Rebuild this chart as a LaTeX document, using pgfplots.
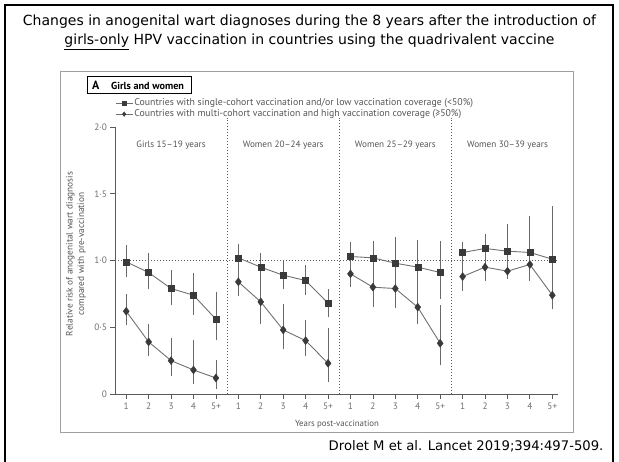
\documentclass[border=0pt]{standalone}
\usepackage{pgfplots}
\pgfplotsset{compat=1.18}
\usepackage{pgfplotstable}
\usepackage{fontspec}
\setmainfont{PT Sans}
\newfontfamily\titlefont{DejaVu Sans}
\definecolor{lgray}{HTML}{555555}
\definecolor{tgray}{HTML}{6E6E6E}
\definecolor{axgray}{HTML}{5A5A5A}
\definecolor{mk}{HTML}{3A3A3A}
\definecolor{ln}{HTML}{707070}
\definecolor{eb}{HTML}{6A6A6A}

\pgfplotstableread{
x y lo hi
0 0.99 0.89 1.10
1 0.91 0.80 1.04
2 0.79 0.68 0.91
3 0.74 0.61 0.89
4 0.56 0.42 0.75
5 1.02 0.93 1.11
6 0.95 0.88 1.04
7 0.89 0.80 0.99
8 0.85 0.76 0.95
9 0.68 0.59 0.77
10 1.03 0.94 1.12
11 1.02 0.93 1.13
12 0.98 0.85 1.16
13 0.95 0.79 1.14
14 0.91 0.73 1.13
15 1.06 0.99 1.12
16 1.09 1.01 1.18
17 1.07 0.93 1.26
18 1.06 0.875 1.32
19 1.01 0.84 1.39
}\single

\pgfplotstableread{
x y lo hi
0 0.62 0.53 0.73
1 0.39 0.30 0.51
2 0.25 0.15 0.40
3 0.18 0.09 0.39
4 0.12 0.055 0.24
5 0.84 0.75 0.93
6 0.69 0.54 0.88
7 0.48 0.35 0.66
8 0.40 0.30 0.54
9 0.23 0.11 0.48
10 0.90 0.82 0.94
11 0.80 0.67 0.92
12 0.79 0.66 0.92
13 0.65 0.54 0.79
14 0.38 0.23 0.65
15 0.88 0.79 0.98
16 0.95 0.86 1.04
17 0.92 0.88 0.97
18 0.97 0.86 1.05
19 0.74 0.65 0.84
}\multi

\begin{document}
\begin{tikzpicture}[x=1pt,y=1pt]
\path[use as bounding box] (0,0) rectangle (619,461);
% slide frame
\draw[line width=1.8pt] (5,-5) -- (5,456) -- (613,456) -- (613,-5);
% figure panel frame
\draw[draw=gray!75, line width=0.8pt] (60,390) rectangle (573,29);

\begin{axis}[
  at={(115pt,67pt)}, anchor=south west, scale only axis,
  width=442.7pt, height=267pt,
  xmin=-0.5, xmax=19.24, ymin=0, ymax=2,
  axis x line*=bottom, axis y line*=left,
  axis line style={draw=axgray, line width=0.9pt},
  xtick={0,...,19},
  xticklabels={1,2,3,4,5+,1,2,3,4,5+,1,2,3,4,5+,1,2,3,4,5+},
  ytick={0,0.5,1,1.5,2},
  yticklabels={0,0·5,1·0,1·5,2·0},
  tick align=outside, major tick length=4.5pt,
  tick style={draw=axgray, line width=0.8pt},
  ticklabel style={font=\fontsize{9.3}{10}\selectfont, text=tgray},
  xticklabel style={yshift=-1pt},
  clip=false,
  ebar/.style={error bars/y dir=both, error bars/y explicit,
    error bars/error bar style={eb, line width=0.8pt},
    error bars/error mark options={eb, mark size=2.2pt, line width=0.8pt}},
  sq/.style={color=ln, line width=0.9pt, mark=square*, mark size=3pt,
    mark options={fill=mk, draw=mk, line width=0.4pt}, ebar},
  dm/.style={color=ln, line width=0.9pt, mark=diamond*, mark size=4pt,
    mark options={fill=mk, draw=mk, line width=0.4pt}, ebar},
  legend style={at={(0,1.069)}, anchor=west, draw=none, fill=none,
    font=\fontsize{9.8}{10.5}\selectfont, text=lgray, inner sep=0pt,
    row sep=0pt, nodes={inner sep=1.3pt}},
  legend cell align=left,
  legend image code/.code={%
    \draw[#1, mark size=2.3pt, line width=0.8pt, mark indices={2}] plot coordinates {(0,0) (0.3cm,0) (0.6cm,0)};},
]
% reference lines
\draw[axgray, line width=0.8pt, dash pattern=on 1.2pt off 1.8pt] (axis cs:-0.5,1) -- (axis cs:19.24,1);
\draw[axgray, line width=0.8pt, dash pattern=on 1.2pt off 1.8pt] (axis cs:4.5,0) -- (axis cs:4.5,2.07);
\draw[axgray, line width=0.8pt, dash pattern=on 1.2pt off 1.8pt] (axis cs:9.5,0) -- (axis cs:9.5,2.07);
\draw[axgray, line width=0.8pt, dash pattern=on 1.2pt off 1.8pt] (axis cs:14.5,0) -- (axis cs:14.5,2.07);

% single-cohort (squares)
\addplot[sq] table[x=x, y=y, y error plus expr=\thisrow{hi}-\thisrow{y}, y error minus expr=\thisrow{y}-\thisrow{lo}, skip coords between index={5}{20}] {\single};
\addlegendentry{Countries with single-cohort vaccination and/or low vaccination coverage (<50\%)}
% multi-cohort (diamonds)
\addplot[dm] table[x=x, y=y, y error plus expr=\thisrow{hi}-\thisrow{y}, y error minus expr=\thisrow{y}-\thisrow{lo}, skip coords between index={5}{20}] {\multi};
\addlegendentry{Countries with multi-cohort vaccination and high vaccination coverage (≥50\%)}

\addplot[forget plot, sq] table[x=x, y=y, y error plus expr=\thisrow{hi}-\thisrow{y}, y error minus expr=\thisrow{y}-\thisrow{lo}, skip coords between index={0}{5}, skip coords between index={10}{20}] {\single};
\addplot[forget plot, sq] table[x=x, y=y, y error plus expr=\thisrow{hi}-\thisrow{y}, y error minus expr=\thisrow{y}-\thisrow{lo}, skip coords between index={0}{10}, skip coords between index={15}{20}] {\single};
\addplot[forget plot, sq] table[x=x, y=y, y error plus expr=\thisrow{hi}-\thisrow{y}, y error minus expr=\thisrow{y}-\thisrow{lo}, skip coords between index={0}{15}] {\single};

\addplot[forget plot, dm] table[x=x, y=y, y error plus expr=\thisrow{hi}-\thisrow{y}, y error minus expr=\thisrow{y}-\thisrow{lo}, skip coords between index={0}{5}, skip coords between index={10}{20}] {\multi};
\addplot[forget plot, dm] table[x=x, y=y, y error plus expr=\thisrow{hi}-\thisrow{y}, y error minus expr=\thisrow{y}-\thisrow{lo}, skip coords between index={0}{10}, skip coords between index={15}{20}] {\multi};
\addplot[forget plot, dm] table[x=x, y=y, y error plus expr=\thisrow{hi}-\thisrow{y}, y error minus expr=\thisrow{y}-\thisrow{lo}, skip coords between index={0}{15}] {\multi};

% panel titles
\node[font=\fontsize{9.2}{10}\selectfont, text=lgray] at (axis cs:2,1.865) {Girls 15–19 years};
\node[font=\fontsize{9.2}{10}\selectfont, text=lgray] at (axis cs:7,1.865) {Women 20–24 years};
\node[font=\fontsize{9.2}{10}\selectfont, text=lgray] at (axis cs:12,1.865) {Women 25–29 years};
\node[font=\fontsize{9.2}{10}\selectfont, text=lgray] at (axis cs:17,1.865) {Women 30–39 years};
\end{axis}

% y label
\node[rotate=90, align=center, font=\fontsize{9.3}{11.5}\selectfont, text=lgray] at (76,207)
  {Relative risk of anogenital wart diagnosis\\compared with pre-vaccination};
% x label
\node[font=\fontsize{8.8}{10}\selectfont, text=lgray] at (337,37) {Years post-vaccination};

% panel label box
\draw[line width=1pt] (87,384) rectangle (191,367);
\node[font=\bfseries\fontsize{12}{12}\selectfont, anchor=west, inner sep=0pt] at (92,375.5) {A};
\node[font=\bfseries\fontsize{10.2}{11}\selectfont, anchor=west, inner sep=0pt] at (111,375.5) {Girls and women};

% slide title
\node[align=center, font=\titlefont\fontsize{14}{19}\selectfont] at (309.5,428.5)
  {Changes in anogenital wart diagnoses during the 8 years after the introduction of\\
   \underline{girls-only} HPV vaccination in countries using the quadrivalent vaccine};
% citation
\node[anchor=east, font=\titlefont\fontsize{13.2}{14}\selectfont] at (607,15) {Drolet M et al. Lancet 2019;394:497-509.};
\end{tikzpicture}
\end{document}
